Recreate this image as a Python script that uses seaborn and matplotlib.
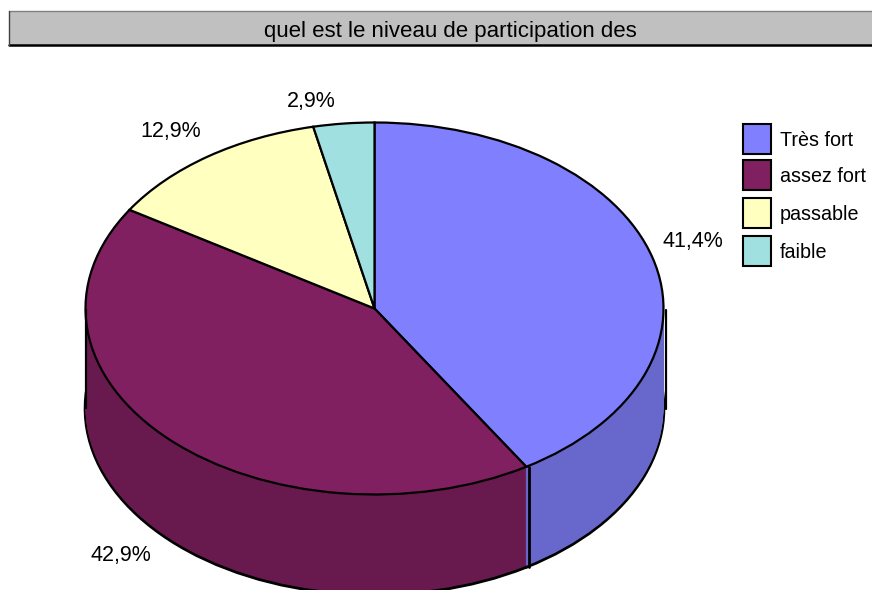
import matplotlib
matplotlib.use("Agg")
import matplotlib.pyplot as plt
from matplotlib.patches import Rectangle
import seaborn as sns

sns.set_theme(style="white")
plt.rcParams['font.family'] = ['Liberation Sans', 'DejaVu Sans']

title = "quel est le niveau de participation des"
categories = ["Très fort", "assez fort", "passable", "faible"]
slice_shares = [41.2, 42.7, 12.7, 3.4]
pct_labels = ["41,4%", "42,9%", "12,9%", "2,9%"]
top_colors = ["#8080FF", "#802060", "#FFFFC0", "#A0E0E0"]
side_colors = ["#6868CC", "#681A4E", "#CCCC9A", "#80B3B3"]

W, H = 872, 590
cx, cy, rx, ry, depth = 374.5, 308.5, 289, 186, 100

fig = plt.figure(figsize=(W / 100, H / 100), dpi=100, facecolor="white")
ax = fig.add_axes([0, 0, 1, 1])


def X(px):
    return (px - cx) / rx


def Y(py):
    return (cy - py) / ry


def pie_at(colors, off, edge=None, lw=0):
    ax.pie(slice_shares, colors=colors, startangle=90, counterclock=False, radius=1,
           center=(0, -off / ry),
           wedgeprops=dict(edgecolor=edge if edge else "none", linewidth=lw),
           normalize=True)


# extruded wall: heavy bottom outline first, stacked copies hide its inner half
pie_at(side_colors, depth, "black", 2.6)
for off in range(depth - 1, -1, -1):
    pie_at(side_colors, off)
pie_at(top_colors, 0, "black", 1.6)

ax.set_aspect("auto")
ax.set_xlim(X(0), X(W))
ax.set_ylim(Y(H), Y(0))
ax.axis("off")

# wall edges
ax.plot([X(86), X(86)], [Y(310), Y(408)], color="black", lw=1.6, zorder=5)
ax.plot([X(666), X(666)], [Y(310), Y(409)], color="black", lw=1.6, zorder=5)
ax.plot([X(529), X(529)], [Y(467), Y(567)], color="black", lw=2, zorder=5)

# title bar
ax.add_patch(Rectangle((X(9), Y(45)), X(880) - X(9), Y(11) - Y(45),
                       facecolor="#C0C0C0", edgecolor="none", zorder=6, clip_on=True))
ax.plot([X(9), X(872)], [Y(11.5), Y(11.5)], color="#808080", lw=1, zorder=7)
ax.plot([X(9), X(872)], [Y(45), Y(45)], color="black", lw=1.8, zorder=7)
ax.plot([X(9), X(9)], [Y(11), Y(45)], color="#404040", lw=1, zorder=7)
ax.text(X(450), Y(31), title, ha="center", va="center", fontsize=16, color="black", zorder=8)

# value labels
for lab, (px, py) in zip(pct_labels, [(693, 241), (121, 555), (171, 131), (311, 102)]):
    ax.text(X(px), Y(py), lab, ha="center", va="center", fontsize=15.5, color="black")

# legend
for cat, col, py in zip(categories, top_colors, [139, 175, 213, 251]):
    ax.add_patch(Rectangle((X(743), Y(py + 15)), X(771) - X(743), Y(py - 15) - Y(py + 15),
                           facecolor=col, edgecolor="black", lw=1.5, zorder=6))
    ax.text(X(780), Y(py + 1), cat, ha="left", va="center", fontsize=14.2, color="black", zorder=6)

fig.savefig("out.png", dpi=100)
